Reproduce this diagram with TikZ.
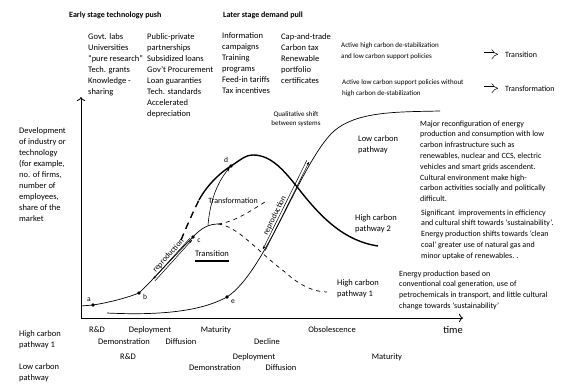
\documentclass[tikz,border=0pt]{standalone}
\usepackage{fontspec}
\setmainfont{Carlito}
\usepackage{tikz}
\usetikzlibrary{arrows.meta}
% multi-line nodes sit on the baseline of their last line
\tikzstyle{title} = [inner sep=0pt, anchor=base west, font=\bfseries\fontsize{8}{10}\selectfont]
\tikzstyle{txt} = [inner sep=0pt, align=left, anchor=base west, font=\fontsize{8.5}{11}\selectfont]
\tikzstyle{small} = [inner sep=0pt, align=left, anchor=base west, font=\fontsize{7}{11.5}\selectfont]
\tikzstyle{block} = [inner sep=0pt, align=left, anchor=base west, font=\fontsize{8}{10.8}\selectfont]
\tikzstyle{stage} = [inner sep=0pt, anchor=base, font=\fontsize{8.5}{10}\selectfont]
\tikzstyle{outcome} = [inner sep=0pt, anchor=base west, font=\fontsize{8}{10}\selectfont]
\tikzstyle{timelbl} = [inner sep=0pt, anchor=base, font=\fontsize{10.5}{12}\selectfont]
\tikzstyle{ptlbl} = [inner sep=0pt, font=\fontsize{7.5}{9}\selectfont]
\tikzstyle{replbl} = [inner sep=0.5pt, font=\fontsize{8}{9}\selectfont]
\tikzstyle{dot} = [circle, fill=black, inner sep=0pt, minimum size=3.6pt]
\tikzstyle{thincurve} = [line width=0.7pt]
\tikzstyle{heavy} = [line width=1.4pt]
\tikzstyle{branch} = [line width=0.7pt, dash pattern=on 4pt off 4pt]
\tikzstyle{axisline} = [line width=0.8pt, -{To[length=4pt]}]
\tikzstyle{arrow} = [line width=0.6pt, -{Stealth[length=4pt,width=3pt]}]
\tikzstyle{rep} = [line width=0.5pt]
\tikzstyle{dbl} = [double, double distance=3pt, line width=0.5pt, -{Implies}]
\tikzstyle{uline} = [line width=1.5pt]

\begin{document}
\begin{tikzpicture}[x=1pt, y=-1pt]
  \useasboundingbox (0,0) rectangle (588,389);

  % policy instruments
  \node (push) [title] at (69,17) {Early stage technology push};
  \node (pull) [title] at (223,17) {Later stage demand pull};
  \node (col1) [txt] at (88,94) {Govt. labs\\Universities\\“pure research”\\Tech. grants\\Knowledge -\\sharing};
  \node (col2) [txt] at (147,116) {Public-private\\partnerships\\Subsidized loans\\Gov’t Procurement\\Loan guaranties\\Tech. standards\\Accelerated\\depreciation};
  \node (col3) [txt] at (222,93) {Information\\campaigns\\Training\\programs\\Feed-in tariffs\\Tax incentives};
  \node (col4) [txt] at (281,83) {Cap-and-trade\\Carbon tax\\Renewable\\portfolio\\certificates};

  \node (mix1) [small] at (341,58.5) {Active high carbon de-stabilization\\and low carbon support policies};
  \node (mix2) [small] at (342,95.5) {Active low carbon support policies without\\high carbon de-stabilization};
  \node (out1) [outcome] at (505,57) {Transition};
  \node (out2) [outcome] at (505,91) {Transformation};
  \draw [dbl] ([xshift=-21pt]out1.west) -- ([xshift=-7pt]out1.west);
  \draw [dbl] ([xshift=-21pt]out2.west) -- ([xshift=-7pt]out2.west);

  % axes
  \node (ylab) [txt] at (19,221) {Development\\of industry or\\technology\\(for example,\\no. of firms,\\number of\\employees,\\share of the\\market};
  \coordinate (O) at (81,318);
  \coordinate (ytop) at (81,97);
  \coordinate (xend) at (463,318);
  \draw [axisline] (O) -- (ytop);
  \draw [axisline] (O) -- (xend);
  \node (time) [timelbl] at (453,333) {time};

  % high carbon curve
  \coordinate (s0) at (81,306);
  \coordinate (a) at (93,305);
  \coordinate (b) at (139,293);
  \coordinate (c) at (193,237);
  \coordinate (split) at (218,224);
  \coordinate (d) at (231,166);
  \coordinate (e) at (227,297);
  \coordinate (s1) at (107,313);
  \draw [thincurve] (s0) .. controls (87,306) .. (a) .. controls (112,302) and (129,297) .. (b)
    .. controls (148,285) and (176,254) .. (c) .. controls (201,228) and (209,224) .. (split);
  \draw [branch] (split) .. controls (235,222) and (252,210) .. (268,200);
  \draw [branch] (split) .. controls (238,226) and (258,252) .. (285,272) .. controls (300,286) and (315,292) .. (327,292);

  % high carbon pathway 2
  \draw [heavy, dash pattern=on 7pt off 5pt] (181,240) .. controls (186,228) and (193,212) .. (199,200);
  \draw [heavy] (199,200) .. controls (207,185) and (221,172) .. (d) .. controls (239,161) and (245,155) .. (253,155)
    .. controls (272,155) and (285,172) .. (298,188) .. controls (322,219) and (345,241) .. (378,246);

  % low carbon pathway
  \draw [thincurve] (s1) .. controls (170,316) and (205,309) .. (e) .. controls (265,272) and (298,170) .. (330,135)
    .. controls (352,111) and (395,112) .. (440,111);

  \coordinate (tb) at (208,225);
  \draw [arrow, shorten >=2pt] (tb) .. controls (210,203) and (216,184) .. (d);

  % reproduction arrows
  \coordinate (r1a) at (153,279.1);
  \coordinate (r1b) at (190,238.1);
  \coordinate (r1c) at (155,280.9);
  \coordinate (r1d) at (192,239.9);
  \draw [rep, {Stealth[length=3.5pt,width=2.5pt]}-] (r1a) -- node[replbl, above, sloped] {reproduction} (r1b);
  \draw [rep, -{Stealth[length=3.5pt,width=2.5pt]}] (r1c) -- (r1d);
  \coordinate (r2a) at (262.8,249.4);
  \coordinate (r2b) at (306.8,160.4);
  \coordinate (r2c) at (265.2,250.6);
  \coordinate (r2d) at (309.2,161.6);
  \draw [rep, {Stealth[length=3.5pt,width=2.5pt]}-] (r2a) -- node[replbl, above, sloped, pos=0.36] {reproduction} (r2b);
  \draw [rep, -{Stealth[length=3.5pt,width=2.5pt]}] (r2c) -- (r2d);

  % points
  \foreach \p in {a,b,c,d,e} \node [dot] at (\p) {};
  \node (la) [ptlbl] at (89,300) {a};
  \node (lb) [ptlbl] at (145,297) {b};
  \node (lc) [ptlbl] at (199,241) {c};
  \node (ld) [ptlbl] at (226,160) {d};
  \node (le) [ptlbl] at (233,302) {e};

  \node (transf) [ptlbl, font=\fontsize{8}{9}\selectfont] at (233,201) {Transformation};
  \node (trs) [stage] at (212,256) {Transition};
  \draw [uline] ([yshift=-5pt]trs.base west) -- ([yshift=-5pt]trs.base east);
  \node (shift) [align=center, inner sep=0pt, font=\fontsize{7}{9}\selectfont] at (296,119) {Qualitative shift\\between systems};

  % pathways
  \node (lcp) [txt] at (358,152) {Low carbon\\pathway};
  \node (hcp2) [txt] at (355,231) {High carbon\\pathway 2};
  \node (hcp1) [txt] at (337,296) {High carbon\\pathway 1};
  \node (blk1) [block] at (420,201.6) {Major reconfiguration of energy\\production and consumption with low\\carbon infrastructure such as\\renewables, nuclear and CCS, electric\\vehicles and smart grids ascendent.\\Cultural environment make high-\\carbon activities socially and politically\\difficult.};
  \node (blk2) [block] at (421,258.2) {Significant\ \ improvements in efficiency\\and cultural shift towards ‘sustainability’.\\Energy production shifts towards ‘clean\\coal’ greater use of natural gas and\\minor uptake of renewables. .};
  \node (blk3) [block] at (399,308.4) {Energy production based on\\conventional coal generation, use of\\petrochemicals in transport, and little cultural\\change towards ‘sustainability’};

  % stages
  \node (hc1) [txt] at (19,347) {High carbon\\pathway 1};
  \node (lc1) [txt] at (19,380) {Low carbon\\pathway};
  \node (h1) [stage] at (97,332) {R\&D};
  \node (h2) [stage] at (150,332) {Deployment};
  \node (h3) [stage] at (216,332) {Maturity};
  \node (h4) [stage] at (332,332) {Obsolescence};
  \node (h5) [stage] at (124,344) {Demonstration};
  \node (h6) [stage] at (181,344) {Diffusion};
  \node (h7) [stage] at (267,344) {Decline};
  \node (l1) [stage] at (128,359) {R\&D};
  \node (l2) [stage] at (254,359) {Deployment};
  \node (l3) [stage] at (387,359) {Maturity};
  \node (l4) [stage] at (215,370) {Demonstration};
  \node (l5) [stage] at (281,370) {Diffusion};
\end{tikzpicture}
\end{document}
